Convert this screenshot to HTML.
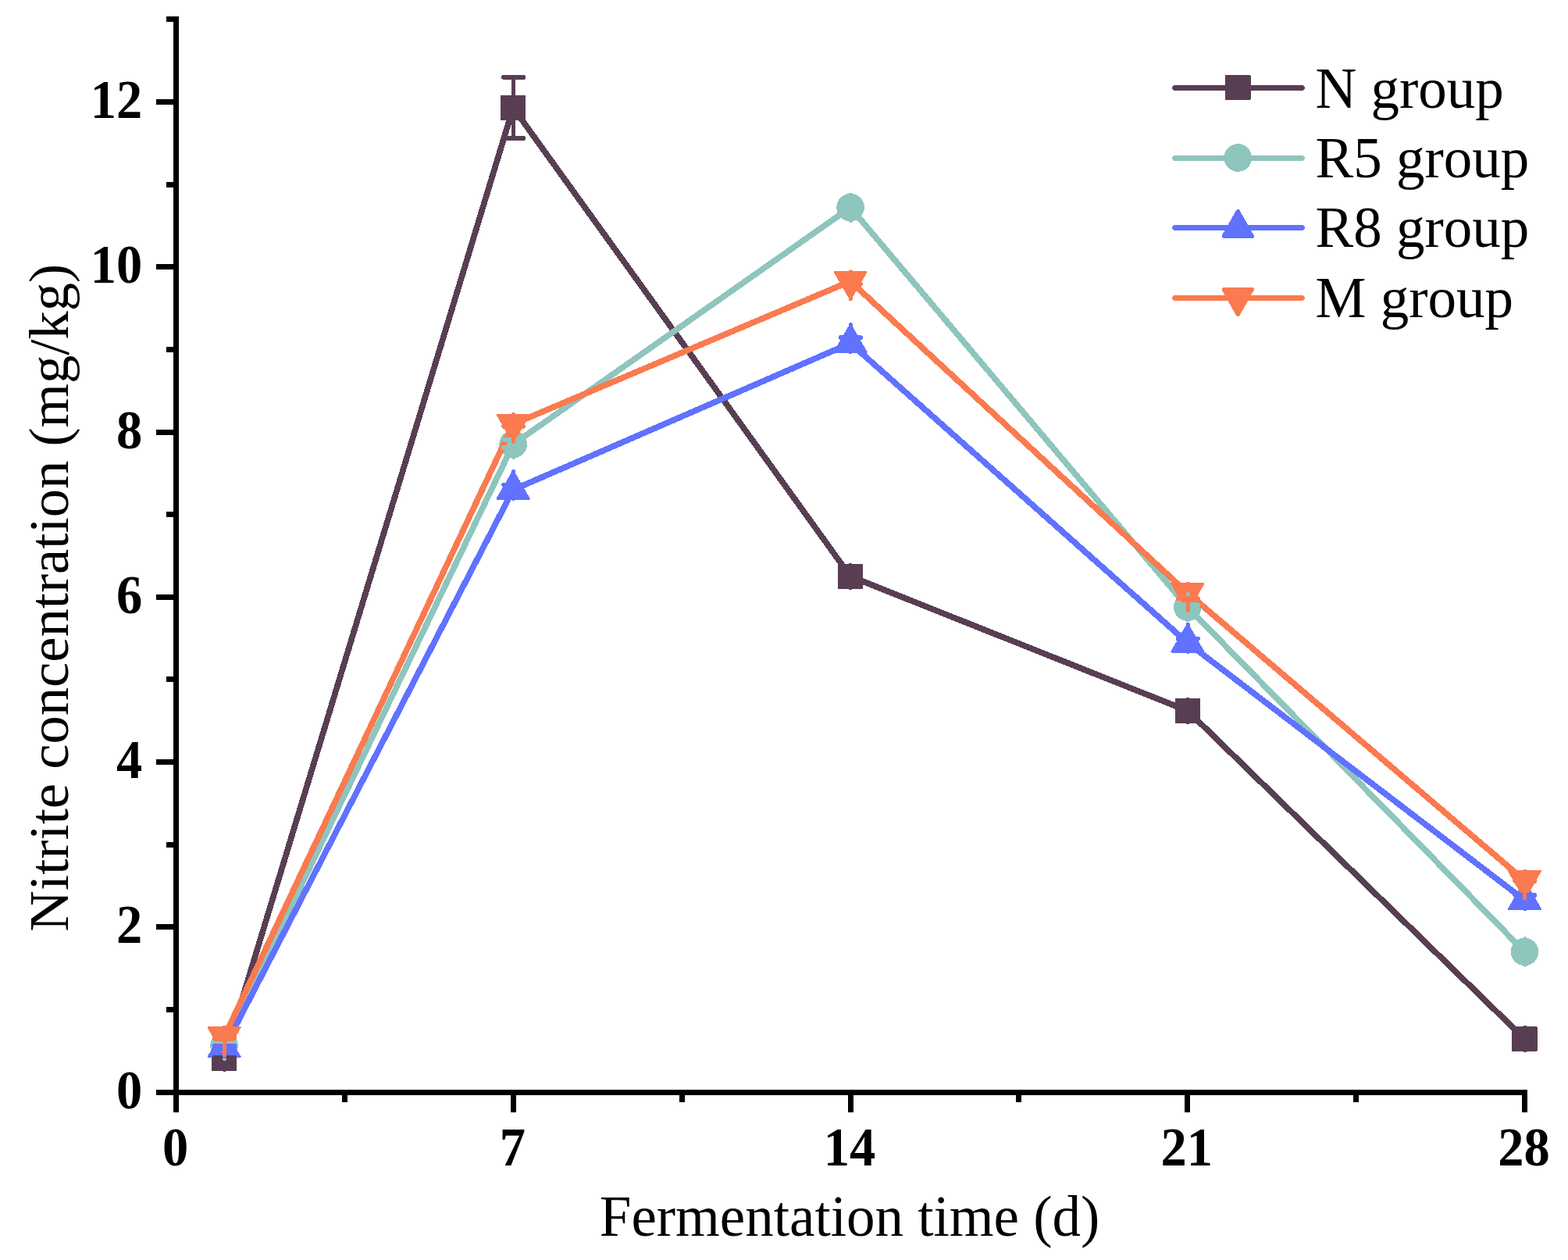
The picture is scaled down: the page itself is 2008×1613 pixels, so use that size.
<!DOCTYPE html>
<html lang="en">
<head>
<meta charset="utf-8">
<title>Nitrite concentration during fermentation</title>
<style>
html,body{margin:0;padding:0;background:#fff;}
body{width:2008px;height:1613px;overflow:hidden;}
svg{display:block;}
</style>
</head>
<body>
<svg width="2008" height="1613" viewBox="0 0 2008 1613" role="img" aria-label="Nitrite concentration (mg/kg) versus fermentation time (d) for N, R5, R8 and M groups">
<rect width="2008" height="1613" fill="#fff"/>
<g fill="#000" shape-rendering="crispEdges">
<rect x="222" y="21" width="7" height="1381"/>
<rect x="222" y="1395" width="1734" height="7"/>
<rect x="200" y="1395" width="24" height="7"/>
<rect x="213" y="1289" width="11" height="7"/>
<rect x="200" y="1183" width="24" height="7"/>
<rect x="213" y="1078" width="11" height="7"/>
<rect x="200" y="972" width="24" height="7"/>
<rect x="213" y="866" width="11" height="7"/>
<rect x="200" y="761" width="24" height="7"/>
<rect x="213" y="655" width="11" height="7"/>
<rect x="200" y="550" width="24" height="7"/>
<rect x="213" y="444" width="11" height="7"/>
<rect x="200" y="338" width="24" height="7"/>
<rect x="213" y="233" width="11" height="7"/>
<rect x="200" y="127" width="24" height="7"/>
<rect x="213" y="21" width="11" height="7"/>
<rect x="222" y="1400" width="7" height="24"/>
<rect x="438" y="1400" width="7" height="11"/>
<rect x="654" y="1400" width="7" height="24"/>
<rect x="870" y="1400" width="7" height="11"/>
<rect x="1086" y="1400" width="7" height="24"/>
<rect x="1301" y="1400" width="7" height="11"/>
<rect x="1517" y="1400" width="7" height="24"/>
<rect x="1733" y="1400" width="7" height="11"/>
<rect x="1949" y="1400" width="7" height="24"/>
</g>
<g shape-rendering="crispEdges">
<polyline points="287.10,1354.70 657.15,137.90 1089.05,737.90 1520.85,909.90 1952.50,1330.00" fill="none" stroke="#583e53" stroke-width="7.7" stroke-linejoin="round" stroke-linecap="round"/>
<rect x="270.90" y="1338.50" width="32.4" height="32.4" rx="1.3" fill="#583e53"/>
<rect x="640.95" y="121.70" width="32.4" height="32.4" rx="1.3" fill="#583e53"/>
<rect x="1072.85" y="721.70" width="32.4" height="32.4" rx="1.3" fill="#583e53"/>
<rect x="1504.65" y="893.70" width="32.4" height="32.4" rx="1.3" fill="#583e53"/>
<rect x="1936.30" y="1313.80" width="32.4" height="32.4" rx="1.3" fill="#583e53"/>
<polyline points="287.10,1338.60 657.15,568.80 1089.05,265.60 1520.85,777.30 1952.50,1218.50" fill="none" stroke="#8ec5bd" stroke-width="7.7" stroke-linejoin="round" stroke-linecap="round"/>
<circle cx="287.10" cy="1338.60" r="17.8" fill="#8ec5bd"/>
<circle cx="657.15" cy="568.80" r="17.8" fill="#8ec5bd"/>
<circle cx="1089.05" cy="265.60" r="17.8" fill="#8ec5bd"/>
<circle cx="1520.85" cy="777.30" r="17.8" fill="#8ec5bd"/>
<circle cx="1952.50" cy="1218.50" r="17.8" fill="#8ec5bd"/>
<polyline points="287.10,1341.60 657.15,627.00 1089.05,439.40 1520.85,822.90 1952.50,1152.40" fill="none" stroke="#6072ff" stroke-width="7.7" stroke-linejoin="round" stroke-linecap="round"/>
<polygon points="285.98,1317.45 286.27,1317.10 286.66,1316.88 287.10,1316.80 287.54,1316.88 287.93,1317.10 288.22,1317.45 308.42,1352.25 308.58,1352.67 308.58,1353.12 308.43,1353.55 308.14,1353.90 307.75,1354.12 307.30,1354.20 266.90,1354.20 266.45,1354.12 266.06,1353.90 265.77,1353.55 265.62,1353.12 265.62,1352.67 265.78,1352.25" fill="#6072ff"/>
<polygon points="656.03,602.85 656.32,602.50 656.71,602.28 657.15,602.20 657.59,602.28 657.98,602.50 658.27,602.85 678.47,637.65 678.63,638.07 678.63,638.52 678.48,638.95 678.19,639.30 677.80,639.52 677.35,639.60 636.95,639.60 636.50,639.52 636.11,639.30 635.82,638.95 635.67,638.52 635.67,638.07 635.83,637.65" fill="#6072ff"/>
<polygon points="1087.93,415.25 1088.22,414.90 1088.61,414.68 1089.05,414.60 1089.49,414.68 1089.88,414.90 1090.17,415.25 1110.37,450.05 1110.53,450.47 1110.53,450.92 1110.38,451.35 1110.09,451.70 1109.70,451.92 1109.25,452.00 1068.85,452.00 1068.40,451.92 1068.01,451.70 1067.72,451.35 1067.57,450.92 1067.57,450.47 1067.73,450.05" fill="#6072ff"/>
<polygon points="1519.73,798.75 1520.02,798.40 1520.41,798.18 1520.85,798.10 1521.29,798.18 1521.68,798.40 1521.97,798.75 1542.17,833.55 1542.33,833.97 1542.33,834.42 1542.18,834.85 1541.89,835.20 1541.50,835.42 1541.05,835.50 1500.65,835.50 1500.20,835.42 1499.81,835.20 1499.52,834.85 1499.37,834.42 1499.37,833.97 1499.53,833.55" fill="#6072ff"/>
<polygon points="1951.38,1128.25 1951.67,1127.90 1952.06,1127.68 1952.50,1127.60 1952.94,1127.68 1953.33,1127.90 1953.62,1128.25 1973.82,1163.05 1973.98,1163.47 1973.98,1163.92 1973.83,1164.35 1973.54,1164.70 1973.15,1164.92 1972.70,1165.00 1932.30,1165.00 1931.85,1164.92 1931.46,1164.70 1931.17,1164.35 1931.02,1163.92 1931.02,1163.47 1931.18,1163.05" fill="#6072ff"/>
<polyline points="287.10,1327.40 657.15,543.00 1089.05,360.10 1520.85,759.20 1952.50,1127.20" fill="none" stroke="#fb7a4f" stroke-width="7.7" stroke-linejoin="round" stroke-linecap="round"/>
<polygon points="288.22,1350.75 287.93,1351.10 287.54,1351.32 287.10,1351.40 286.66,1351.32 286.27,1351.10 285.98,1350.75 265.78,1315.95 265.62,1315.53 265.62,1315.08 265.77,1314.65 266.06,1314.30 266.45,1314.08 266.90,1314.00 307.30,1314.00 307.75,1314.08 308.14,1314.30 308.43,1314.65 308.58,1315.08 308.58,1315.53 308.42,1315.95" fill="#fb7a4f"/>
<polygon points="658.27,566.35 657.98,566.70 657.59,566.92 657.15,567.00 656.71,566.92 656.32,566.70 656.03,566.35 635.83,531.55 635.67,531.13 635.67,530.68 635.82,530.25 636.11,529.90 636.50,529.68 636.95,529.60 677.35,529.60 677.80,529.68 678.19,529.90 678.48,530.25 678.63,530.68 678.63,531.13 678.47,531.55" fill="#fb7a4f"/>
<polygon points="1090.17,383.45 1089.88,383.80 1089.49,384.02 1089.05,384.10 1088.61,384.02 1088.22,383.80 1087.93,383.45 1067.73,348.65 1067.57,348.23 1067.57,347.78 1067.72,347.35 1068.01,347.00 1068.40,346.78 1068.85,346.70 1109.25,346.70 1109.70,346.78 1110.09,347.00 1110.38,347.35 1110.53,347.78 1110.53,348.23 1110.37,348.65" fill="#fb7a4f"/>
<polygon points="1521.97,782.55 1521.68,782.90 1521.29,783.12 1520.85,783.20 1520.41,783.12 1520.02,782.90 1519.73,782.55 1499.53,747.75 1499.37,747.33 1499.37,746.88 1499.52,746.45 1499.81,746.10 1500.20,745.88 1500.65,745.80 1541.05,745.80 1541.50,745.88 1541.89,746.10 1542.18,746.45 1542.33,746.88 1542.33,747.33 1542.17,747.75" fill="#fb7a4f"/>
<polygon points="1953.62,1150.55 1953.33,1150.90 1952.94,1151.12 1952.50,1151.20 1952.06,1151.12 1951.67,1150.90 1951.38,1150.55 1931.18,1115.75 1931.02,1115.33 1931.02,1114.88 1931.17,1114.45 1931.46,1114.10 1931.85,1113.88 1932.30,1113.80 1972.70,1113.80 1973.15,1113.88 1973.54,1114.10 1973.83,1114.45 1973.98,1114.88 1973.98,1115.33 1973.82,1115.75" fill="#fb7a4f"/>
<g stroke="#583e53" stroke-linecap="round" fill="none">
<line x1="287.45" y1="1339.90" x2="287.45" y2="1353.70" stroke-width="5.0"/>
<line x1="287.45" y1="1355.70" x2="287.45" y2="1369.50" stroke-width="5.0"/>
<line x1="275.00" y1="1353.70" x2="300.00" y2="1353.70" stroke-width="6.0"/>
<line x1="275.00" y1="1355.70" x2="300.00" y2="1355.70" stroke-width="6.0"/>
<line x1="657.50" y1="98.80" x2="657.50" y2="123.10" stroke-width="5.0"/>
<line x1="657.50" y1="152.70" x2="657.50" y2="177.00" stroke-width="5.0"/>
<line x1="645.05" y1="98.80" x2="670.05" y2="98.80" stroke-width="6.0"/>
<line x1="645.05" y1="177.00" x2="670.05" y2="177.00" stroke-width="6.0"/>
<line x1="1089.40" y1="723.10" x2="1089.40" y2="736.90" stroke-width="5.0"/>
<line x1="1089.40" y1="738.90" x2="1089.40" y2="752.70" stroke-width="5.0"/>
<line x1="1076.95" y1="736.90" x2="1101.95" y2="736.90" stroke-width="6.0"/>
<line x1="1076.95" y1="738.90" x2="1101.95" y2="738.90" stroke-width="6.0"/>
<line x1="1521.20" y1="895.10" x2="1521.20" y2="908.90" stroke-width="5.0"/>
<line x1="1521.20" y1="910.90" x2="1521.20" y2="924.70" stroke-width="5.0"/>
<line x1="1508.75" y1="908.90" x2="1533.75" y2="908.90" stroke-width="6.0"/>
<line x1="1508.75" y1="910.90" x2="1533.75" y2="910.90" stroke-width="6.0"/>
<line x1="1952.85" y1="1315.20" x2="1952.85" y2="1329.00" stroke-width="5.0"/>
<line x1="1952.85" y1="1331.00" x2="1952.85" y2="1344.80" stroke-width="5.0"/>
<line x1="1940.40" y1="1329.00" x2="1965.40" y2="1329.00" stroke-width="6.0"/>
<line x1="1940.40" y1="1331.00" x2="1965.40" y2="1331.00" stroke-width="6.0"/>
</g>
<g stroke="#8ec5bd" stroke-linecap="round" fill="none">
<line x1="287.45" y1="1322.00" x2="287.45" y2="1336.10" stroke-width="5.0"/>
<line x1="287.45" y1="1341.10" x2="287.45" y2="1355.20" stroke-width="5.0"/>
<line x1="275.00" y1="1336.10" x2="300.00" y2="1336.10" stroke-width="6.0"/>
<line x1="275.00" y1="1341.10" x2="300.00" y2="1341.10" stroke-width="6.0"/>
<line x1="657.50" y1="552.20" x2="657.50" y2="562.50" stroke-width="5.0"/>
<line x1="657.50" y1="573.10" x2="657.50" y2="585.40" stroke-width="5.0"/>
<line x1="645.05" y1="562.50" x2="670.05" y2="562.50" stroke-width="6.0"/>
<line x1="645.05" y1="573.10" x2="670.05" y2="573.10" stroke-width="6.0"/>
<line x1="1089.40" y1="249.00" x2="1089.40" y2="264.60" stroke-width="5.0"/>
<line x1="1089.40" y1="266.60" x2="1089.40" y2="282.20" stroke-width="5.0"/>
<line x1="1076.95" y1="264.60" x2="1101.95" y2="264.60" stroke-width="6.0"/>
<line x1="1076.95" y1="266.60" x2="1101.95" y2="266.60" stroke-width="6.0"/>
<line x1="1521.20" y1="760.70" x2="1521.20" y2="774.30" stroke-width="5.0"/>
<line x1="1521.20" y1="780.30" x2="1521.20" y2="793.90" stroke-width="5.0"/>
<line x1="1508.75" y1="774.30" x2="1533.75" y2="774.30" stroke-width="6.0"/>
<line x1="1508.75" y1="780.30" x2="1533.75" y2="780.30" stroke-width="6.0"/>
<line x1="1952.85" y1="1201.90" x2="1952.85" y2="1217.50" stroke-width="5.0"/>
<line x1="1952.85" y1="1219.50" x2="1952.85" y2="1235.10" stroke-width="5.0"/>
<line x1="1940.40" y1="1217.50" x2="1965.40" y2="1217.50" stroke-width="6.0"/>
<line x1="1940.40" y1="1219.50" x2="1965.40" y2="1219.50" stroke-width="6.0"/>
</g>
<g stroke="#6072ff" stroke-linecap="round" fill="none">
<line x1="287.45" y1="1318.00" x2="287.45" y2="1338.70" stroke-width="5.0"/>
<line x1="287.45" y1="1342.90" x2="287.45" y2="1353.00" stroke-width="5.0"/>
<line x1="275.00" y1="1338.70" x2="300.00" y2="1338.70" stroke-width="6.0"/>
<line x1="275.00" y1="1342.90" x2="300.00" y2="1342.90" stroke-width="6.0"/>
<line x1="657.50" y1="603.40" x2="657.50" y2="620.70" stroke-width="5.0"/>
<line x1="657.50" y1="631.70" x2="657.50" y2="638.40" stroke-width="5.0"/>
<line x1="645.05" y1="620.70" x2="670.05" y2="620.70" stroke-width="6.0"/>
<line x1="645.05" y1="631.70" x2="670.05" y2="631.70" stroke-width="6.0"/>
<line x1="1089.40" y1="415.80" x2="1089.40" y2="432.20" stroke-width="5.0"/>
<line x1="1089.40" y1="445.00" x2="1089.40" y2="450.80" stroke-width="5.0"/>
<line x1="1076.95" y1="432.20" x2="1101.95" y2="432.20" stroke-width="6.0"/>
<line x1="1076.95" y1="445.00" x2="1101.95" y2="445.00" stroke-width="6.0"/>
<line x1="1521.20" y1="799.30" x2="1521.20" y2="817.50" stroke-width="5.0"/>
<line x1="1521.20" y1="826.70" x2="1521.20" y2="834.30" stroke-width="5.0"/>
<line x1="1508.75" y1="817.50" x2="1533.75" y2="817.50" stroke-width="6.0"/>
<line x1="1508.75" y1="826.70" x2="1533.75" y2="826.70" stroke-width="6.0"/>
<line x1="1952.85" y1="1128.80" x2="1952.85" y2="1146.00" stroke-width="5.0"/>
<line x1="1952.85" y1="1157.20" x2="1952.85" y2="1163.80" stroke-width="5.0"/>
<line x1="1940.40" y1="1146.00" x2="1965.40" y2="1146.00" stroke-width="6.0"/>
<line x1="1940.40" y1="1157.20" x2="1965.40" y2="1157.20" stroke-width="6.0"/>
</g>
<g stroke="#fb7a4f" stroke-linecap="round" fill="none">
<line x1="287.45" y1="1315.20" x2="287.45" y2="1325.60" stroke-width="5.0"/>
<line x1="287.45" y1="1329.20" x2="287.45" y2="1350.20" stroke-width="5.0"/>
<line x1="275.00" y1="1325.60" x2="300.00" y2="1325.60" stroke-width="6.0"/>
<line x1="275.00" y1="1329.20" x2="300.00" y2="1329.20" stroke-width="6.0"/>
<line x1="657.50" y1="530.80" x2="657.50" y2="540.30" stroke-width="5.0"/>
<line x1="657.50" y1="545.70" x2="657.50" y2="565.80" stroke-width="5.0"/>
<line x1="645.05" y1="540.30" x2="670.05" y2="540.30" stroke-width="6.0"/>
<line x1="645.05" y1="545.70" x2="670.05" y2="545.70" stroke-width="6.0"/>
<line x1="1089.40" y1="347.90" x2="1089.40" y2="356.60" stroke-width="5.0"/>
<line x1="1089.40" y1="363.60" x2="1089.40" y2="382.90" stroke-width="5.0"/>
<line x1="1076.95" y1="356.60" x2="1101.95" y2="356.60" stroke-width="6.0"/>
<line x1="1076.95" y1="363.60" x2="1101.95" y2="363.60" stroke-width="6.0"/>
<line x1="1521.20" y1="747.00" x2="1521.20" y2="752.00" stroke-width="5.0"/>
<line x1="1521.20" y1="766.40" x2="1521.20" y2="782.00" stroke-width="5.0"/>
<line x1="1508.75" y1="752.00" x2="1533.75" y2="752.00" stroke-width="6.0"/>
<line x1="1508.75" y1="766.40" x2="1533.75" y2="766.40" stroke-width="6.0"/>
<line x1="1952.85" y1="1115.00" x2="1952.85" y2="1126.60" stroke-width="5.0"/>
<line x1="1952.85" y1="1127.80" x2="1952.85" y2="1150.00" stroke-width="5.0"/>
<line x1="1940.40" y1="1126.60" x2="1965.40" y2="1126.60" stroke-width="6.0"/>
<line x1="1940.40" y1="1127.80" x2="1965.40" y2="1127.80" stroke-width="6.0"/>
</g>
</g>
<g shape-rendering="crispEdges">
<line x1="1504.8" y1="112.5" x2="1667.2" y2="112.5" stroke="#583e53" stroke-width="7" stroke-linecap="round"/>
<rect x="1569.10" y="95.80" width="32.4" height="32.4" rx="1.3" fill="#583e53"/>
<line x1="1504.8" y1="202.5" x2="1667.2" y2="202.5" stroke="#8ec5bd" stroke-width="7" stroke-linecap="round"/>
<circle cx="1585.30" cy="202.00" r="17.8" fill="#8ec5bd"/>
<line x1="1504.8" y1="291.5" x2="1667.2" y2="291.5" stroke="#6072ff" stroke-width="7" stroke-linecap="round"/>
<polygon points="1583.04,269.32 1583.62,268.62 1584.40,268.16 1585.30,268.00 1586.20,268.16 1586.98,268.62 1587.56,269.32 1605.51,301.02 1605.81,301.87 1605.81,302.77 1605.50,303.61 1604.92,304.30 1604.14,304.74 1603.25,304.90 1567.35,304.90 1566.46,304.74 1565.68,304.30 1565.10,303.61 1564.79,302.77 1564.79,301.87 1565.09,301.02" fill="#6072ff"/>
<line x1="1504.8" y1="381.5" x2="1667.2" y2="381.5" stroke="#fb7a4f" stroke-width="7" stroke-linecap="round"/>
<polygon points="1587.56,403.68 1586.98,404.38 1586.20,404.84 1585.30,405.00 1584.40,404.84 1583.62,404.38 1583.04,403.68 1565.09,371.98 1564.79,371.13 1564.79,370.23 1565.10,369.39 1565.68,368.70 1566.46,368.26 1567.35,368.10 1603.25,368.10 1604.14,368.26 1604.92,368.70 1605.50,369.39 1605.81,370.23 1605.81,371.13 1605.51,371.98" fill="#fb7a4f"/>
</g>
<g font-family="'Liberation Serif', serif" fill="#000">
<text x="1684.6" y="137.6" font-size="73">N group</text>
<text x="1684.6" y="227.2" font-size="73">R5 group</text>
<text x="1684.6" y="316.0" font-size="73">R8 group</text>
<text x="1684.6" y="406.1" font-size="73">M group</text>
<text transform="translate(182.3 1418.8) scale(1 1.045)" font-size="66.5" font-weight="bold" text-anchor="end">0</text>
<text transform="translate(182.3 1206.8) scale(1 1.045)" font-size="66.5" font-weight="bold" text-anchor="end">2</text>
<text transform="translate(182.3 995.8) scale(1 1.045)" font-size="66.5" font-weight="bold" text-anchor="end">4</text>
<text transform="translate(182.3 784.8) scale(1 1.045)" font-size="66.5" font-weight="bold" text-anchor="end">6</text>
<text transform="translate(182.3 573.8) scale(1 1.045)" font-size="66.5" font-weight="bold" text-anchor="end">8</text>
<text transform="translate(182.3 361.8) scale(1 1.045)" font-size="66.5" font-weight="bold" text-anchor="end">10</text>
<text transform="translate(182.3 150.8) scale(1 1.045)" font-size="66.5" font-weight="bold" text-anchor="end">12</text>
<text transform="translate(224.6 1492.0) scale(1 1.045)" font-size="66.5" font-weight="bold" text-anchor="middle">0</text>
<text transform="translate(656.3 1492.0) scale(1 1.045)" font-size="66.5" font-weight="bold" text-anchor="middle">7</text>
<text transform="translate(1088.0 1492.0) scale(1 1.045)" font-size="66.5" font-weight="bold" text-anchor="middle">14</text>
<text transform="translate(1519.8 1492.0) scale(1 1.045)" font-size="66.5" font-weight="bold" text-anchor="middle">21</text>
<text transform="translate(1951.5 1492.0) scale(1 1.045)" font-size="66.5" font-weight="bold" text-anchor="middle">28</text>
<text x="1088.1" y="1582.2" font-size="73" text-anchor="middle">Fermentation time (d)</text>
<text transform="translate(86.7 765.1) rotate(-90)" font-size="72.6" text-anchor="middle">Nitrite concentration (mg/kg)</text>
</g>
</svg>
</body>
</html>
